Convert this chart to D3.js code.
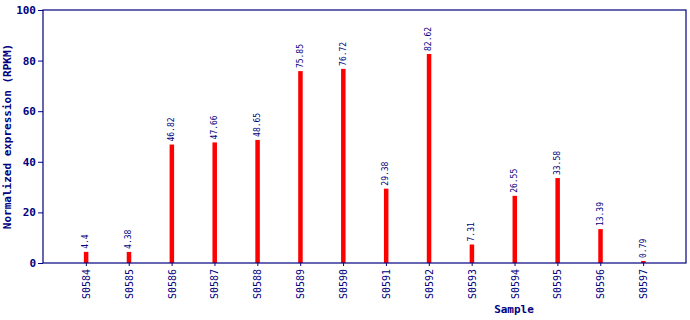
<!DOCTYPE html>
<html>
<head>
<meta charset="utf-8">
<script src="https://cdn.jsdelivr.net/npm/d3@7"></script>
<style>
  body { margin: 0; background: white; }
</style>
</head>
<body>
<div id="chart"></div>
<script>
// Data
const samples = ["S0584", "S0585", "S0586", "S0587", "S0588", "S0589", "S0590",
                 "S0591", "S0592", "S0593", "S0594", "S0595", "S0596", "S0597"];
const values = [4.4, 4.38, 46.82, 47.66, 48.65, 75.85, 76.72,
                29.38, 82.62, 7.31, 26.55, 33.58, 13.39, 0.79];
const yTicks = [0, 20, 40, 60, 80, 100];

const data = samples.map((s, i) => ({ sample: s, value: values[i] }));

let width = 690,
    height = 320;

let margin = { top: 10, right: 4, bottom: 57, left: 43 };

const navy = '#000080';
const mono = '"DejaVu Sans Mono", "Liberation Mono", monospace';

let svg = d3.select('#chart')
    .append('svg')
    .attr('width', width)
    .attr('height', height)
    .style('background', 'white');

// Scales
let xScale = d3.scalePoint()
    .domain(samples)
    .range([margin.left, width - margin.right])
    .padding(1);

let yScale = d3.scaleLinear()
    .domain([0, 100])
    .range([height - margin.bottom, margin.top]);

// Bars
svg.selectAll('rect.bar')
    .data(data)
    .enter()
    .append('rect')
    .attr('class', 'bar')
    .attr('x', d => xScale(d.sample) - 2)
    .attr('y', d => yScale(d.value))
    .attr('width', 4.5)
    .attr('height', d => yScale(0) - yScale(d.value))
    .attr('fill', '#ff0000');

// Value labels
svg.selectAll('text.val')
    .data(data)
    .enter()
    .append('text')
    .attr('class', 'val')
    .attr('transform', d => `translate(${xScale(d.sample) + 2.5},${yScale(d.value) - 3}) rotate(-90)`)
    .text(d => d.value)
    .style('font-family', mono)
    .style('font-size', '8px')
    .style('fill', navy);

// Plot frame
svg.append('rect')
    .attr('x', margin.left)
    .attr('y', margin.top)
    .attr('width', width - margin.right - margin.left)
    .attr('height', height - margin.bottom - margin.top)
    .attr('fill', 'none')
    .attr('stroke', navy)
    .attr('stroke-width', 1.2);

// X axis
let xAxis = svg.append('g')
    .attr('transform', `translate(0,${height - margin.bottom})`)
    .call(d3.axisBottom(xScale).tickSize(3).tickSizeOuter(0));

xAxis.select('.domain').remove();
xAxis.selectAll('line').attr('stroke', navy);
xAxis.selectAll('text')
    .attr('transform', 'rotate(-90)')
    .attr('x', -6)
    .attr('y', 0)
    .attr('dy', '0.35em')
    .style('text-anchor', 'end')
    .style('font-family', mono)
    .style('font-size', '10px')
    .style('fill', navy);

// Y axis
let yAxis = svg.append('g')
    .attr('transform', `translate(${margin.left},0)`)
    .call(d3.axisLeft(yScale).tickValues(yTicks).tickSize(5).tickSizeOuter(0));

yAxis.select('.domain').remove();
yAxis.selectAll('line').attr('stroke', navy);
yAxis.selectAll('text')
    .attr('x', -7)
    .style('font-family', mono)
    .style('font-size', '11px')
    .style('font-weight', 'bold')
    .style('fill', navy);

// Axis titles
svg.append('text')
    .attr('x', 514)
    .attr('y', 313)
    .text('Sample')
    .style('text-anchor', 'middle')
    .style('font-family', mono)
    .style('font-size', '11px')
    .style('font-weight', 'bold')
    .style('fill', navy);

svg.append('text')
    .attr('transform', `translate(11,${(margin.top + height - margin.bottom) / 2}) rotate(-90)`)
    .text('Normalized expression (RPKM)')
    .style('text-anchor', 'middle')
    .style('font-family', mono)
    .style('font-size', '11px')
    .style('font-weight', 'bold')
    .style('fill', navy);
</script>
</body>
</html>
